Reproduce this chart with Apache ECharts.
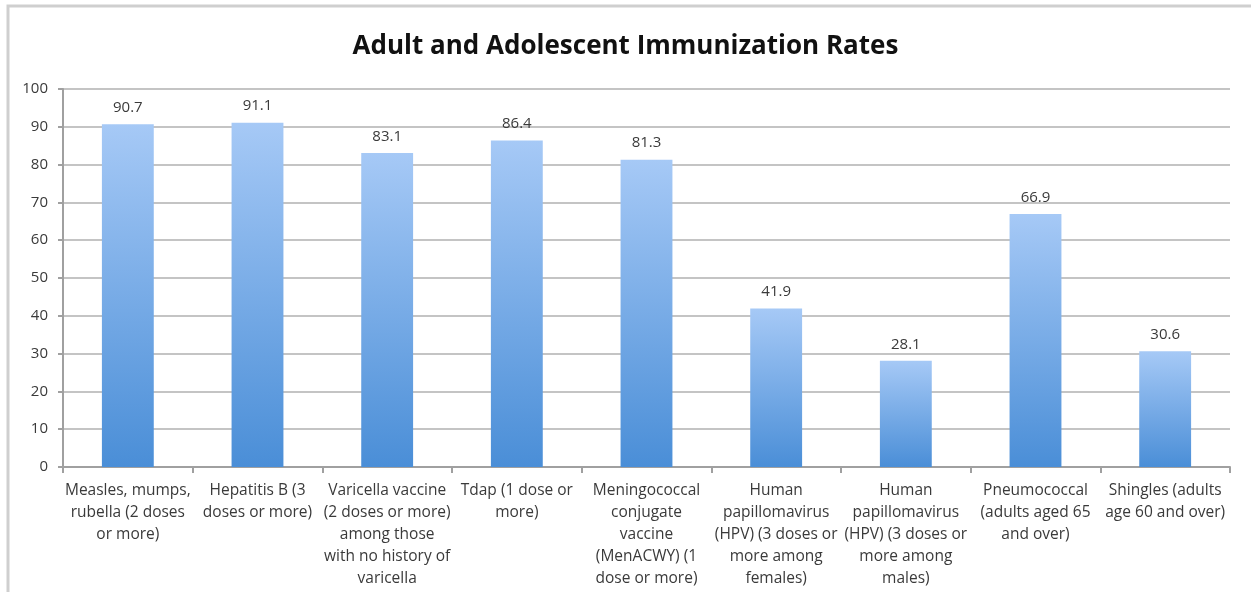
<!DOCTYPE html>
<html>
<head>
<meta charset="utf-8">
<script src="https://cdn.jsdelivr.net/npm/echarts@6/dist/echarts.min.js"></script>
<style>html,body{margin:0;padding:0;background:#fff}#c{width:1251px;height:592px}</style>
</head>
<body>
<div id="c"></div>
<script>
const title = "Adult and Adolescent Immunization Rates";
const categories = [
  "Measles, mumps,\nrubella (2 doses\nor more)",
  "Hepatitis B (3\ndoses or more)",
  "Varicella vaccine\n(2 doses or more)\namong those\nwith no history of\nvaricella",
  "Tdap (1 dose or\nmore)",
  "Meningococcal\nconjugate\nvaccine\n(MenACWY) (1\ndose or more)",
  "Human\npapillomavirus\n(HPV) (3 doses or\nmore among\nfemales)",
  "Human\npapillomavirus\n(HPV) (3 doses or\nmore among\nmales)",
  "Pneumococcal\n(adults aged 65\nand over)",
  "Shingles (adults\nage 60 and over)"
];
const values = [90.7, 91.1, 83.1, 86.4, 81.3, 41.9, 28.1, 66.9, 30.6];
const yTicks = [0, 10, 20, 30, 40, 50, 60, 70, 80, 90, 100];

const FONT = "'Open Sans', 'DejaVu Sans', sans-serif";
const chart = echarts.init(document.getElementById('c'), null, {renderer: 'canvas'});
chart.setOption({
  animation: false,
  backgroundColor: '#fff',
  graphic: [{
    type: 'polyline', silent: true,
    shape: {points: [[8, 600], [8, 6], [1251, 6]]},
    style: {stroke: '#cfcfcf', lineWidth: 3, fill: null}
  }],
  title: {
    text: title, left: 'center', top: 29,
    textStyle: {fontFamily: FONT, fontWeight: 'bold', fontSize: 26, color: '#111'}
  },
  grid: {left: 63, right: 21, top: 89, bottom: 125, containLabel: false},
  xAxis: {
    type: 'category', data: categories,
    axisLine: {lineStyle: {color: '#a0a0a0', width: 2}},
    axisTick: {show: true, alignWithLabel: false, length: 6, lineStyle: {color: '#a0a0a0', width: 2}},
    axisLabel: {interval: 0, fontFamily: FONT, fontSize: 15.5, color: '#3a3a3a', lineHeight: 22, margin: 13}
  },
  yAxis: {
    type: 'value', min: yTicks[0], max: yTicks[yTicks.length - 1], interval: 10,
    axisLine: {show: true, lineStyle: {color: '#a0a0a0', width: 2}},
    axisTick: {show: true, length: 5, lineStyle: {color: '#a0a0a0', width: 2}},
    axisLabel: {fontFamily: FONT, fontSize: 15, color: '#3a3a3a', margin: 15},
    splitLine: {lineStyle: {color: '#c4c4c4', width: 2}}
  },
  series: [{
    type: 'bar', data: values, barWidth: '40%',
    itemStyle: {
      color: new echarts.graphic.LinearGradient(0, 0, 0, 1, [
        {offset: 0, color: '#a6c9f6'},
        {offset: 1, color: '#4a8ed7'}
      ])
    },
    label: {show: true, position: 'top', distance: 9, fontFamily: FONT, fontSize: 15, color: '#3a3a3a',
      formatter: p => p.value.toFixed(1)}
  }]
});
</script>
</body>
</html>
